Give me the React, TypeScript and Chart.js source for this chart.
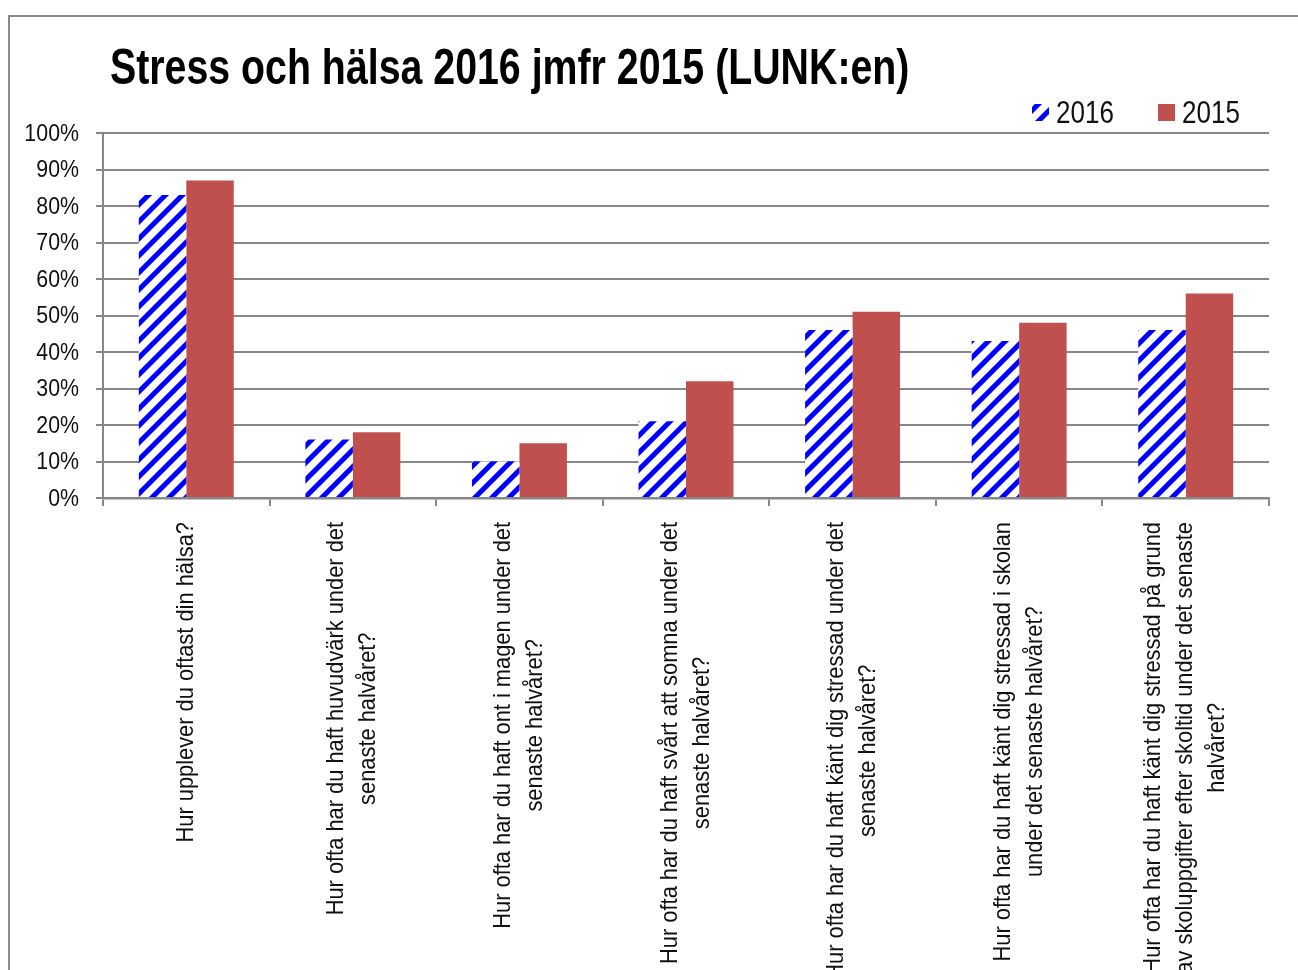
import React, { useEffect, useRef } from 'react';
import { Chart, registerables } from 'chart.js';

Chart.register(...registerables);

const titleText = 'Stress och hälsa 2016 jmfr 2015 (LUNK:en)';

const categories: string[][] = [
  ['Hur upplever du oftast din hälsa?'],
  ['Hur ofta har du haft huvudvärk under det', 'senaste halvåret?'],
  ['Hur ofta har du haft ont i magen under det', 'senaste halvåret?'],
  ['Hur ofta har du haft svårt att somna under det', 'senaste halvåret?'],
  ['Hur ofta har du haft känt dig stressad under det', 'senaste halvåret?'],
  ['Hur ofta har du haft känt dig stressad i skolan', 'under det senaste halvåret?'],
  ['Hur ofta har du haft känt dig stressad på grund', 'av skoluppgifter efter skoltid under det senaste', 'halvåret?'],
];

const seriesNames = ['2016', '2015'];
const values2016 = [83, 16, 10, 21, 46, 43, 46];
const values2015 = [87, 18, 15, 32, 51, 48, 56];

const yMin = 0;
const yMax = 100;
const yStep = 10;

const FONT = "'Liberation Sans Narrow', 'Arial Narrow', 'Liberation Sans', Arial, sans-serif";
const GRID = '#878787';
const TEXT = '#111111';
const RED = '#C0504D';
const BLUE = '#0000FF';

function makeHatch(): CanvasPattern | string {
  const P = 17;
  const c = document.createElement('canvas');
  c.width = P;
  c.height = P;
  const g = c.getContext('2d');
  if (!g) return BLUE;
  const img = g.createImageData(P, P);
  for (let y = 0; y < P; y++) {
    for (let x = 0; x < P; x++) {
      const k = (x + y) % P;
      const i = (y * P + x) * 4;
      let r = 255, gg = 255, b = 255;
      if (k < 6) { r = 0; gg = 0; b = 255; }
      else if (k === 6 || k === P - 1) { r = 110; gg = 110; b = 255; }
      img.data[i] = r; img.data[i + 1] = gg; img.data[i + 2] = b; img.data[i + 3] = 255;
    }
  }
  g.putImageData(img, 0, 0);
  const pat = g.createPattern(c, 'repeat');
  return pat || BLUE;
}

export default function App() {
  const ref = useRef<HTMLCanvasElement | null>(null);

  useEffect(() => {
    const canvas = ref.current;
    if (!canvas) return;
    const hatch = makeHatch();

    const decor = {
      id: 'decor',
      afterDraw(chart: any) {
        const ctx = chart.ctx as CanvasRenderingContext2D;
        ctx.save();
        // outer frame
        ctx.strokeStyle = '#8a8a8a';
        ctx.lineWidth = 2;
        ctx.strokeRect(9, 16, 1400, 1100);

        // title (condensed)
        ctx.fillStyle = '#000';
        ctx.font = `bold 50px ${FONT}`;
        ctx.textAlign = 'left';
        ctx.textBaseline = 'alphabetic';
        ctx.save();
        ctx.translate(110, 84);
        ctx.scale(0.786, 1);
        ctx.fillText(titleText, 0, 0);
        ctx.restore();

        // legend
        const ds = chart.data.datasets;
        const legendX = [1032, 1158];
        ctx.font = `31px ${FONT}`;
        ds.forEach((d: any, i: number) => {
          ctx.fillStyle = d.backgroundColor;
          ctx.fillRect(legendX[i], 104, 17, 17);
          ctx.fillStyle = TEXT;
          ctx.save();
          ctx.translate(legendX[i] + 24, 123);
          ctx.scale(0.84, 1);
          ctx.fillText(d.label, 0, 0);
          ctx.restore();
        });

        // y tick labels (condensed)
        const ys = chart.scales.y;
        ctx.font = `24px ${FONT}`;
        ctx.fillStyle = TEXT;
        ctx.textAlign = 'right';
        ctx.textBaseline = 'middle';
        ys.ticks.forEach((t: any) => {
          const y = ys.getPixelForValue(t.value);
          ctx.save();
          ctx.translate(79, y + 1);
          ctx.scale(0.89, 1);
          ctx.fillText(`${t.value}%`, 0, 0);
          ctx.restore();
        });

        // x category labels (rotated, centered multi-line, condensed)
        const xs = chart.scales.x;
        const sx = 0.91;
        ctx.font = `24px ${FONT}`;
        ctx.textAlign = 'center';
        ctx.textBaseline = 'middle';
        const lh = 32;
        (chart.data.labels as string[][]).forEach((lines, i) => {
          const x = xs.getPixelForValue(i);
          const maxW = Math.max(...lines.map((l) => ctx.measureText(l).width)) * sx;
          ctx.save();
          ctx.translate(x, 522 + maxW / 2);
          ctx.rotate(-Math.PI / 2);
          ctx.scale(sx, 1);
          lines.forEach((l, j) => {
            ctx.fillText(l, 0, (j - (lines.length - 1) / 2) * lh);
          });
          ctx.restore();
        });
        ctx.restore();
      },
    };

    const chart = new Chart(canvas, {
      type: 'bar',
      data: {
        labels: categories,
        datasets: [
          { label: seriesNames[0], data: values2016, backgroundColor: hatch as any, borderWidth: 0 },
          { label: seriesNames[1], data: values2015, backgroundColor: RED, borderWidth: 0 },
        ],
      },
      options: {
        animation: false,
        responsive: false,
        maintainAspectRatio: false,
        devicePixelRatio: 1,
        layout: { padding: { left: 0, right: 29, top: 133, bottom: 0 } },
        plugins: {
          legend: { display: false },
          title: { display: false },
          tooltip: { enabled: false },
        },
        datasets: { bar: { categoryPercentage: 0.57, barPercentage: 1 } },
        scales: {
          x: {
            ticks: { display: false },
            grid: { display: true, drawOnChartArea: false, drawTicks: true, tickLength: 8, color: GRID, lineWidth: 2, offset: true },
            border: { display: true, color: GRID, width: 2.5 },
            afterFit(scale: any) { scale.height = 472; },
          },
          y: {
            min: yMin,
            max: yMax,
            ticks: {
              display: false,
              stepSize: yStep,
            },
            grid: { color: GRID, lineWidth: 2, drawTicks: true, tickLength: 7 },
            border: { display: true, color: GRID, width: 2 },
            afterFit(scale: any) { scale.width = 103; },
          },
        },
      },
      plugins: [decor],
    });
    return () => chart.destroy();
  }, []);

  return (
    <div style={{ position: 'fixed', left: 0, top: 0, width: 1298, height: 970, background: '#fff' }}>
      <canvas ref={ref} width={1298} height={970} style={{ display: 'block', width: 1298, height: 970 }} />
    </div>
  );
}
